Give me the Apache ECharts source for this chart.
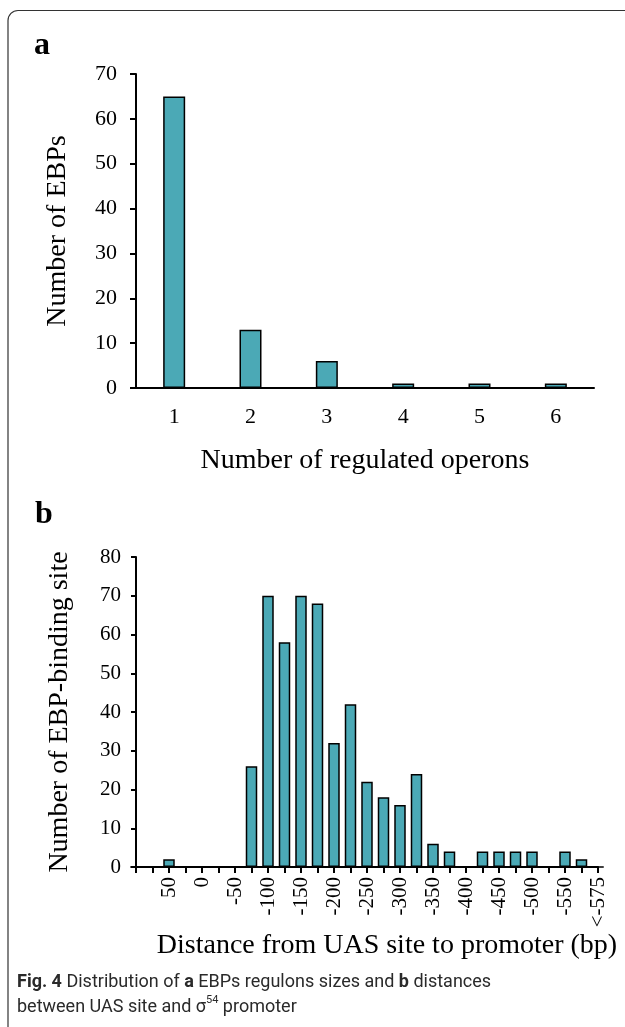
<!DOCTYPE html>
<html>
<head>
<meta charset="utf-8">
<script src="https://cdn.jsdelivr.net/npm/echarts@6/dist/echarts.min.js"></script>
<style>
  html, body { margin: 0; padding: 0; background: #fff; }
  #chart { width: 625px; height: 1027px; }
</style>
</head>
<body>
<div id="chart"></div>
<script>
// panel a: regulon sizes
var operonCounts = ['1', '2', '3', '4', '5', '6'];
var ebpCounts = [65, 13, 6, 1, 1, 1];

// panel b: UAS-promoter distance, 25 bp bins (axis runs 100 -> -600)
var distanceBins = ['100', '75', '50', '25', '0', '-25', '-50', '-75', '-100', '-125',
  '-150', '-175', '-200', '-225', '-250', '-275', '-300', '-325', '-350', '-375',
  '-400', '-425', '-450', '-475', '-500', '-525', '-550', '-575', '-600'];
var siteCounts = [0, 0, 2, 0, 0, 0, 0, 26, 70, 58,
  70, 68, 32, 42, 22, 18, 16, 24, 6, 4,
  0, 4, 4, 4, 4, 0, 4, 2, 0];
var distanceLabels = ['', '', '50', '', '0', '', '-50', '', '-100', '',
  '-150', '', '-200', '', '-250', '', '-300', '', '-350', '',
  '-400', '', '-450', '', '-500', '', '-550', '', '<-575'];

var serif = '"Liberation Serif", "Times New Roman", serif';
var barColor = '#4ba9b6';

var chart = echarts.init(document.getElementById('chart'));

var axisLine = { lineStyle: { color: '#000', width: 2 } };
var nameStyle = { fontFamily: serif, fontSize: 28, color: '#000' };

chart.setOption({
  animation: false,
  grid: [
    { left: 136, top: 74, width: 458, height: 314, outerBoundsMode: 'none' },
    { left: 136, top: 557, width: 462, height: 310, outerBoundsMode: 'none' }
  ],
  xAxis: [
    {
      gridIndex: 0,
      type: 'category',
      data: operonCounts,
      axisLine: axisLine,
      axisTick: { length: 7, lineStyle: { color: '#000', width: 2 } },
      axisLabel: { fontFamily: serif, fontSize: 22, color: '#000', margin: 18 },
      name: 'Number of regulated operons',
      nameLocation: 'middle',
      nameGap: 59,
      nameTextStyle: nameStyle
    },
    {
      gridIndex: 1,
      type: 'category',
      data: distanceBins,
      boundaryGap: false,
      axisLine: axisLine,
      axisTick: { interval: 0, length: 6, lineStyle: { color: '#000', width: 2 } },
      axisLabel: {
        interval: 0,
        rotate: 90,
        fontFamily: serif,
        fontSize: 21,
        color: '#000',
        margin: 10,
        formatter: function (v, i) { return distanceLabels[i]; }
      },
      name: 'Distance from UAS site to promoter (bp)',
      nameLocation: 'middle',
      nameGap: 57,
      nameTextStyle: { fontFamily: serif, fontSize: 28, color: '#000', padding: [0, 0, 0, 40] }
    }
  ],
  yAxis: [
    {
      gridIndex: 0,
      type: 'value',
      min: 0,
      max: 70,
      interval: 10,
      splitLine: { show: false },
      axisLine: { show: true, lineStyle: { color: '#000', width: 2 } },
      axisTick: { show: true, length: 6, lineStyle: { color: '#000', width: 2 } },
      axisLabel: { fontFamily: serif, fontSize: 22, color: '#000', margin: 19 },
      name: 'Number of EBPs',
      nameLocation: 'middle',
      nameGap: 64,
      nameTextStyle: nameStyle
    },
    {
      gridIndex: 1,
      type: 'value',
      min: 0,
      max: 80,
      interval: 10,
      splitLine: { show: false },
      axisLine: { show: true, lineStyle: { color: '#000', width: 2 } },
      axisTick: { show: true, length: 5, lineStyle: { color: '#000', width: 2 } },
      axisLabel: { fontFamily: serif, fontSize: 21, color: '#000', margin: 15 },
      name: 'Number of EBP-binding site',
      nameLocation: 'middle',
      nameGap: 62,
      nameTextStyle: nameStyle
    }
  ],
  series: [
    {
      type: 'bar',
      xAxisIndex: 0,
      yAxisIndex: 0,
      data: ebpCounts,
      barWidth: 22,
      itemStyle: { color: barColor, borderColor: '#000', borderWidth: 1.5 }
    },
    {
      type: 'bar',
      xAxisIndex: 1,
      yAxisIndex: 1,
      data: siteCounts,
      barWidth: 11.5,
      itemStyle: { color: barColor, borderColor: '#000', borderWidth: 1.5 }
    }
  ],
  graphic: [
    {
      type: 'rect',
      shape: { x: 8, y: 10.5, width: 700, height: 1030, r: 10 },
      style: { fill: 'none', stroke: '#333', lineWidth: 1.2 },
      silent: true
    },
    {
      type: 'text', left: 34, top: 30,
      style: { text: 'a', fontFamily: serif, fontSize: 32, fontWeight: 'bold', fill: '#000' }
    },
    {
      type: 'text', left: 35, top: 499,
      style: { text: 'b', fontFamily: serif, fontSize: 32, fontWeight: 'bold', fill: '#000' }
    },
    {
      type: 'text', left: 17, top: 970,
      style: {
        text: '{b|Fig. 4} Distribution of {b|a} EBPs regulons sizes and {b|b} distances\nbetween UAS site and σ{sup|54} promoter',
        fontFamily: 'Roboto', fontSize: 18, lineHeight: 25, fill: '#2a2a2a',
        rich: {
          b: { fontFamily: 'Roboto', fontSize: 18, fontWeight: 'bold', lineHeight: 25 },
          sup: { fontFamily: 'Roboto', fontSize: 11, lineHeight: 14, verticalAlign: 'top' }
        }
      }
    }
  ]
});
</script>
</body>
</html>
